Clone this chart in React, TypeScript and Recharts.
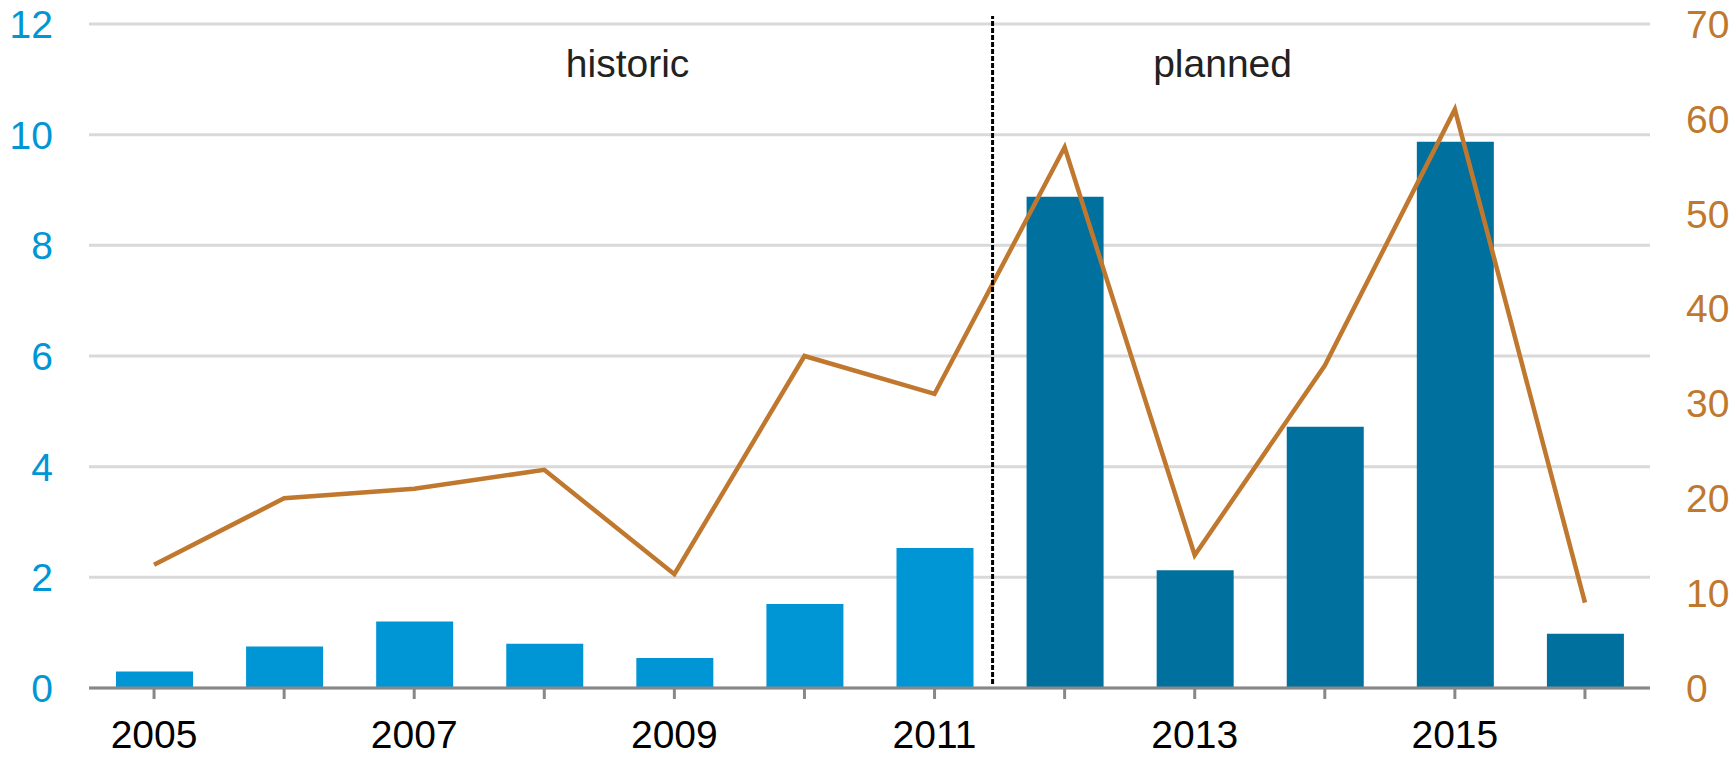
import React from 'react';
import { ComposedChart, Bar, Line, XAxis, YAxis, CartesianGrid, ReferenceLine, Cell } from 'recharts';

const years = ['2005','2006','2007','2008','2009','2010','2011','2012','2013','2014','2015','2016'];
const xTickLabels = ['2005','','2007','','2009','','2011','','2013','','2015',''];
const phases = ['historic','historic','historic','historic','historic','historic','historic','planned','planned','planned','planned','planned'];
const barValues = [0.3, 0.75, 1.2, 0.8, 0.54, 1.52, 2.53, 8.88, 2.13, 4.72, 9.87, 0.98];
const lineValues = [13, 20, 21, 23, 12, 35, 31, 57, 14, 34, 61, 9];
const leftTicks = [0, 2, 4, 6, 8, 10, 12];
const rightTicks = [0, 10, 20, 30, 40, 50, 60, 70];

const data = years.map((y, i) => ({ year: y, bar: barValues[i], line: lineValues[i], phase: phases[i] }));

const phaseColor: Record<string, string> = { historic: '#0096D6', planned: '#00709F' };
const FONT = '"Liberation Sans", Arial, sans-serif';

export default function App() {
  return (
    <div style={{ position: 'absolute', left: 0, top: 0, background: '#fff' }}>
      <ComposedChart width={1733} height={759} data={data} margin={{ top: 24, right: 0, bottom: 0, left: 0 }}>
        <CartesianGrid yAxisId="left" vertical={false} stroke="#D9D9D9" strokeWidth={3} />
        <XAxis
          dataKey="year"
          height={71}
          axisLine={{ stroke: '#888888', strokeWidth: 3 }}
          tickLine={{ stroke: '#888888', strokeWidth: 3 }}
          tickSize={11}
          tickMargin={21}
          interval={0}
          tickFormatter={(v: string, i: number) => xTickLabels[i] ?? ''}
          tick={{ fill: '#000000', fontSize: 39, fontFamily: FONT }}
        />
        <YAxis
          yAxisId="left"
          orientation="left"
          width={89}
          domain={[0, 12]}
          ticks={leftTicks}
          axisLine={false}
          tickLine={false}
          tickSize={0}
          tickMargin={36}
          tick={{ fill: '#0096D6', fontSize: 39, fontFamily: FONT }}
        />
        <YAxis
          yAxisId="right"
          orientation="right"
          width={83}
          domain={[0, 70]}
          ticks={rightTicks}
          axisLine={false}
          tickLine={false}
          tickSize={0}
          tickMargin={36}
          tick={{ fill: '#C0782F', fontSize: 39, fontFamily: FONT }}
        />
        <Bar yAxisId="left" dataKey="bar" barSize={77} isAnimationActive={false}>
          {data.map((d, i) => (
            <Cell key={i} fill={phaseColor[d.phase]} />
          ))}
        </Bar>
        <Line
          yAxisId="right"
          dataKey="line"
          type="linear"
          stroke="#C0782F"
          strokeWidth={4.5}
          dot={false}
          activeDot={false}
          isAnimationActive={false}
        />
        <ReferenceLine
          yAxisId="left"
          x="2012"
          position="start"
          stroke="#000000"
          strokeWidth={3}
          strokeDasharray="5 2"
          shape={(p: any) => (
            <line x1={p.x1 - 7} y1={p.y1 - 4} x2={p.x2 - 7} y2={p.y2 - 8} stroke="#000000" strokeWidth={3} strokeDasharray="5 2" />
          )}
          label={(p: any) => (
            <text x={p.viewBox.x - 372} y={p.viewBox.y + 53} textAnchor="middle" fill="#222" fontSize={39} fontFamily={FONT}>
              historic
            </text>
          )}
        />
        <ReferenceLine
          yAxisId="left"
          x="2012"
          position="start"
          stroke="none"
          label={(p: any) => (
            <text x={p.viewBox.x + 223} y={p.viewBox.y + 53} textAnchor="middle" fill="#222" fontSize={39} fontFamily={FONT}>
              planned
            </text>
          )}
        />
      </ComposedChart>
    </div>
  );
}
